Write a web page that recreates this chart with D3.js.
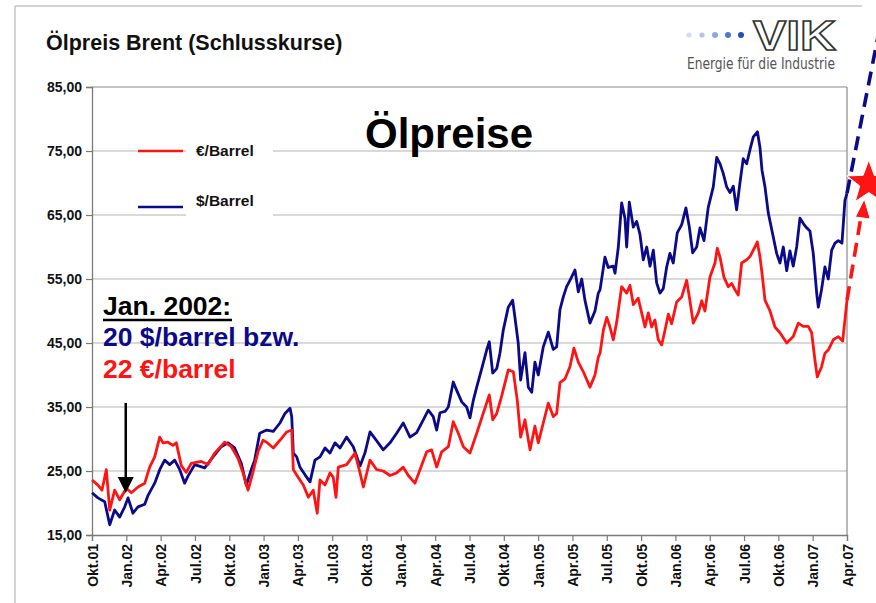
<!DOCTYPE html>
<html><head><meta charset="utf-8">
<script src="https://cdn.jsdelivr.net/npm/d3@7"></script>
<style>
html,body{margin:0;padding:0;background:#fff;}
svg{display:block;font-family:"Liberation Sans",Arial,Helvetica,sans-serif;}
</style></head><body>
<svg id="chart" width="876" height="603"></svg>
<script>
// ---------- DATA ----------
const chartTitle = "Ölpreis Brent (Schlusskurse)";
const bigTitle = "Ölpreise";
const seriesNames = ["€/Barrel", "$/Barrel"];
const xTickLabels = ["Okt.01","Jan.02","Apr.02","Jul.02","Okt.02","Jan.03","Apr.03","Jul.03","Okt.03","Jan.04","Apr.04","Jul.04","Okt.04","Jan.05","Apr.05","Jul.05","Okt.05","Jan.06","Apr.06","Jul.06","Okt.06","Jan.07","Apr.07"];
const yTicks = [15,25,35,45,55,65,75,85];
// months since Okt.01
const usdMonths = [0,0.52,1.11,1.55,1.98,2.42,2.86,3.15,3.58,4.02,4.61,4.90,5.48,5.92,6.35,6.79,7.23,7.67,8.10,8.39,8.98,9.85,10.58,11.30,11.89,12.47,13.05,13.49,13.92,14.22,14.66,15.27,15.85,16.43,16.87,17.31,17.46,17.60,17.89,18.18,18.62,19.06,19.49,19.93,20.37,20.80,21.24,21.68,22.26,22.84,23.43,23.86,24.30,24.89,25.46,26.05,26.63,27.21,27.80,28.38,28.96,29.40,29.83,30.13,30.42,30.86,31.15,31.58,31.88,32.32,32.75,33.04,33.33,33.63,34.07,34.50,34.73,35.03,35.38,35.66,35.95,36.39,36.77,36.98,37.26,37.47,37.85,38.14,38.44,38.72,39.01,39.45,39.89,40.32,40.62,40.91,41.20,41.49,41.78,42.22,42.51,42.81,43.09,43.53,43.97,44.26,44.41,44.84,45.13,45.57,45.72,46.01,46.30,46.59,46.74,46.97,47.32,47.61,47.90,48.19,48.49,48.78,49.07,49.36,49.65,49.94,50.24,50.52,50.81,51.16,51.55,51.92,52.21,52.51,52.86,53.15,53.50,53.87,54.31,54.61,54.90,55.18,55.48,55.77,56.06,56.35,56.64,56.93,57.23,57.52,57.81,58.17,58.39,58.57,58.83,59.12,59.55,59.85,60.14,60.43,60.73,61.01,61.30,61.60,61.89,62.17,62.47,62.76,63.05,63.35,63.49,63.78,64.07,64.36,64.66,64.95,65.24,65.56,65.82,66.00];
const usdValues = [21.6,20.8,20.2,16.6,18.9,17.8,19.4,20.8,18.4,19.4,19.8,21.2,23.1,25.2,26.7,26.0,26.7,25.2,23.1,24.2,26.0,25.5,27.2,28.8,29.4,28.6,26.2,22.8,25.2,26.7,30.9,31.4,31.2,32.5,34.0,34.8,33.5,27.8,27.2,25.6,24.4,23.3,26.7,27.2,28.6,27.8,29.4,28.6,30.3,28.8,25.8,27.8,31.1,29.7,28.3,29.4,30.9,32.5,30.3,31.0,33.0,34.5,33.5,31.4,34.1,34.3,35.0,38.9,37.6,35.8,35.0,33.3,36.0,38.1,41.0,43.9,45.2,40.3,41.0,43.4,47.0,50.6,51.7,48.9,45.0,39.2,43.5,38.1,37.3,42.0,40.0,44.4,46.7,44.0,44.4,50.2,52.2,53.8,54.8,56.4,53.0,55.0,51.7,48.1,50.0,52.8,53.3,58.4,56.8,57.0,55.9,60.0,66.9,64.5,60.0,67.0,63.1,64.0,62.0,58.0,60.0,57.0,59.5,54.4,52.8,53.5,56.9,59.0,57.5,62.2,63.5,66.1,63.2,59.1,60.0,63.0,61.0,66.2,69.4,74.0,73.0,71.5,69.4,68.5,69.5,65.8,70.0,73.8,73.0,75.2,77.2,78.0,75.6,72.0,69.4,65.3,61.6,59.0,57.5,60.0,56.3,59.4,57.0,60.0,64.5,63.7,63.0,62.5,59.0,52.8,50.6,53.4,56.9,55.0,59.5,60.6,61.0,60.6,67.3,68.4];
const eurMonths = [0,0.52,0.87,1.25,1.55,1.98,2.42,3.00,3.44,4.02,4.61,5.04,5.48,5.92,6.21,6.64,7.08,7.37,7.81,8.24,8.68,9.55,10.14,10.73,11.60,12.18,12.76,13.20,13.64,14.07,14.51,14.95,15.27,15.85,16.43,17.02,17.46,17.60,18.03,18.47,18.91,19.34,19.69,19.93,20.37,20.80,21.09,21.33,21.53,22.26,22.99,23.43,23.72,24.30,24.89,25.46,26.05,26.63,27.21,27.65,28.23,28.67,29.26,29.69,30.13,30.57,31.15,31.58,32.02,32.46,33.04,33.63,34.20,34.73,35.03,35.38,35.81,36.39,36.83,37.18,37.47,37.85,38.29,38.72,39.01,39.45,39.89,40.32,40.62,40.91,41.35,41.78,42.13,42.51,42.95,43.53,43.97,44.26,44.41,44.70,45.00,45.28,45.57,45.87,46.30,46.74,47.03,47.32,47.75,48.05,48.34,48.63,48.92,49.21,49.50,49.80,50.09,50.38,50.67,51.11,51.55,51.98,52.27,52.56,53.00,53.30,53.58,54.02,54.46,54.66,54.90,55.24,55.62,55.92,56.21,56.49,56.79,57.23,57.52,57.95,58.16,58.39,58.57,58.83,59.27,59.70,60.14,60.73,61.30,61.74,62.17,62.61,62.91,63.20,63.40,63.78,64.07,64.36,64.80,65.24,65.62,65.82,66.00];
const eurValues = [23.6,22.8,22.0,25.2,18.9,22.0,20.5,22.3,21.6,22.5,23.1,25.6,27.2,30.3,29.4,29.5,29.0,29.4,25.8,24.8,26.2,26.5,26.0,27.8,29.5,28.8,27.0,24.7,22.0,24.8,28.0,29.8,29.5,28.6,29.8,31.1,31.4,25.2,24.0,22.8,20.9,22.0,18.4,23.6,22.8,24.7,24.0,20.9,25.6,26.0,27.8,24.7,22.5,26.7,25.2,25.0,24.3,24.7,25.6,24.3,23.1,25.2,28.0,28.3,25.6,28.0,28.8,32.7,30.9,28.8,27.8,30.9,34.0,36.9,33.0,34.0,36.7,40.8,40.5,36.0,30.3,33.0,28.3,32.0,29.4,32.5,35.6,33.5,34.0,38.8,39.4,41.3,44.2,42.0,40.5,38.1,40.0,42.8,43.4,47.0,49.0,47.5,45.5,48.3,53.8,52.8,54.0,51.0,52.0,49.7,47.5,49.7,47.5,48.6,45.5,44.7,47.0,49.5,48.0,51.4,52.2,54.8,51.6,48.1,49.7,51.6,50.0,55.3,57.5,59.8,58.4,55.3,53.8,54.3,53.3,52.5,57.5,58.0,58.5,60.0,60.8,58.5,55.9,51.7,50.0,47.5,46.6,45.0,46.0,48.1,47.6,47.6,46.6,42.3,39.7,41.3,43.4,43.9,45.5,46.0,45.3,48.6,51.7];
// dashed forecast arrows (month, value)
const usdForecast = [[66, 68.4], [69.0, 95.5]];
const eurForecast = [[66, 51.7], [67.25, 65.0]];
const starPoint = [67.9, 70.0];
const annotationLines = ["Jan. 2002:", "20 $/barrel bzw.", "22 €/barrel"];
const annotationMonth = 2.95; // Jan. 2002 arrow

// ---------- CHART ----------
const svg = d3.select("#chart");
const L = 92, R = 847, T = 87, B = 535;
const x = d3.scaleLinear().domain([0, 66]).range([L, R]);
const y = d3.scaleLinear().domain([15, 85]).range([B, T]);
const RED = "#ff1414", BLUE = "#0a0a8a";

// outer frame
svg.append("line").attr("x1",15).attr("x2",15).attr("y1",6).attr("y2",603).attr("stroke","#c4c4c4").attr("stroke-width",1.5);
svg.append("line").attr("x1",15).attr("x2",862).attr("y1",6).attr("y2",6).attr("stroke","#c4c4c4").attr("stroke-width",1.5);

// title
svg.append("text").attr("x",46).attr("y",50).attr("font-size",21.5).attr("font-weight","bold").attr("fill","#111").text(chartTitle);

// logo
const dotColors = ["#d3dcef","#b3c4e7","#8ea8dc","#4c78cc","#1f50b6"];
dotColors.forEach((c,i)=>svg.append("circle").attr("cx",689+i*13).attr("cy",35).attr("r",i<2?2.6:3).attr("fill",c));
svg.append("text").attr("x",753).attr("y",50).attr("font-size",42).attr("font-weight","bold")
  .attr("textLength",83).attr("lengthAdjust","spacingAndGlyphs")
  .attr("fill","#fff").attr("stroke","#333").attr("stroke-width",1.6).text("VIK");
svg.append("text").attr("x",687).attr("y",69).attr("font-size",15)
  .attr("font-family","'Liberation Sans Narrow','DejaVu Sans Condensed',Arial,sans-serif")
  .attr("textLength",148).attr("lengthAdjust","spacingAndGlyphs")
  .attr("fill","#555").text("Energie für die Industrie");

// gridlines
svg.append("g").selectAll("line").data(yTicks.filter(v=>v>15)).join("line")
  .attr("x1",L).attr("x2",R).attr("y1",d=>y(d)).attr("y2",d=>y(d))
  .attr("stroke",d=>d===85?"#8a8a8a":"#b4b4b4").attr("stroke-width",1.2);
svg.append("line").attr("x1",R).attr("x2",R).attr("y1",T).attr("y2",B).attr("stroke","#8a8a8a").attr("stroke-width",1.2);

// axes
const yAxis = svg.append("g").attr("transform",`translate(${L},0)`)
  .call(d3.axisLeft(y).tickValues(yTicks).tickSize(6).tickPadding(4)
    .tickFormat(d=>d3.format(".2f")(d).replace(".",",")));
const xAxis = svg.append("g").attr("transform",`translate(0,${B})`)
  .call(d3.axisBottom(x).tickValues(d3.range(0,67,3)).tickSize(6)
    .tickFormat((d,i)=>xTickLabels[i]));
[yAxis,xAxis].forEach(g=>{
  g.selectAll("path.domain").attr("stroke","#7a7a7a").attr("stroke-width",1.3);
  g.selectAll(".tick line").attr("stroke","#7a7a7a").attr("stroke-width",1.2);
  g.selectAll("text").attr("font-size",14).attr("font-weight","bold").attr("fill","#111")
    .attr("font-family","'Liberation Sans',Arial,sans-serif");
});
xAxis.selectAll(".tick text").attr("transform","rotate(-90)").attr("x",-9).attr("y",0)
  .attr("dy","0.36em").attr("text-anchor","end");

// legend background + legend
svg.append("rect").attr("x",186).attr("y",138).attr("width",87).attr("height",84).attr("fill","#fff");
const legendRows = [{name:seriesNames[0],color:RED,ly:151,ty:156},{name:seriesNames[1],color:BLUE,ly:207,ty:206}];
legendRows.forEach(r=>{
  svg.append("line").attr("x1",138).attr("x2",183).attr("y1",r.ly).attr("y2",r.ly).attr("stroke",r.color).attr("stroke-width",2.6);
  svg.append("text").attr("x",196).attr("y",r.ty).attr("font-size",15.5).attr("font-weight","bold").attr("fill","#111").text(r.name);
});

// big title
svg.append("text").attr("x",365).attr("y",148).attr("font-size",42).attr("font-weight","bold").attr("fill","#000").text(bigTitle);

// series lines
const line = d3.line().x(d=>x(d[0])).y(d=>y(d[1]));
const usd = usdMonths.map((m,i)=>[m,usdValues[i]]);
const eur = eurMonths.map((m,i)=>[m,eurValues[i]]);
svg.append("path").datum(usd).attr("d",line).attr("fill","none").attr("stroke",BLUE).attr("stroke-width",2.8).attr("stroke-linejoin","round");
svg.append("path").datum(eur).attr("d",line).attr("fill","none").attr("stroke",RED).attr("stroke-width",2.8).attr("stroke-linejoin","round");

// annotation text
const annColors = ["#000", BLUE, RED];
const annY = [315, 346, 378];
annotationLines.forEach((t,i)=>{
  svg.append("text").attr("x",103).attr("y",annY[i]).attr("font-size",26.5).attr("font-weight","bold").attr("fill",annColors[i]).text(t);
});
svg.append("line").attr("x1",103).attr("x2",232).attr("y1",320).attr("y2",320).attr("stroke","#000").attr("stroke-width",2.5);

// arrow to Jan 2002
const ax = x(annotationMonth);
svg.append("line").attr("x1",ax).attr("x2",ax).attr("y1",403).attr("y2",480).attr("stroke","#000").attr("stroke-width",2.5);
svg.append("path").attr("d",`M${ax-8},477 L${ax+8},477 L${ax},493 Z`).attr("fill","#000");

// forecast dashed arrows
svg.append("path").datum(usdForecast).attr("d",line).attr("fill","none").attr("stroke",BLUE).attr("stroke-width",3.6).attr("stroke-dasharray","14,8");
svg.append("path").datum(eurForecast).attr("d",line).attr("fill","none").attr("stroke",RED).attr("stroke-width",3.6).attr("stroke-dasharray","14,8");
// red arrowhead
const e1 = eurForecast[1];
const hx = x(e1[0]), hy = y(e1[1]);
svg.append("path").attr("d",`M${hx+3},${hy-16} L${hx-6},${hy+2} L${hx+9},${hy+4} Z`).attr("fill",RED).attr("stroke","#fff").attr("stroke-width",1);
// star
const sx = x(starPoint[0]), sy = y(starPoint[1]);
const starPts = d3.range(10).map(i=>{
  const r = i%2===0 ? 23 : 9.5;
  const a = -Math.PI/2 + i*Math.PI/5;
  return [sx + r*Math.cos(a), sy + r*Math.sin(a)];
});
svg.append("path").attr("d","M"+starPts.map(p=>p.join(",")).join("L")+"Z").attr("fill",RED).attr("stroke","#fff").attr("stroke-width",1);
</script>
</body></html>
